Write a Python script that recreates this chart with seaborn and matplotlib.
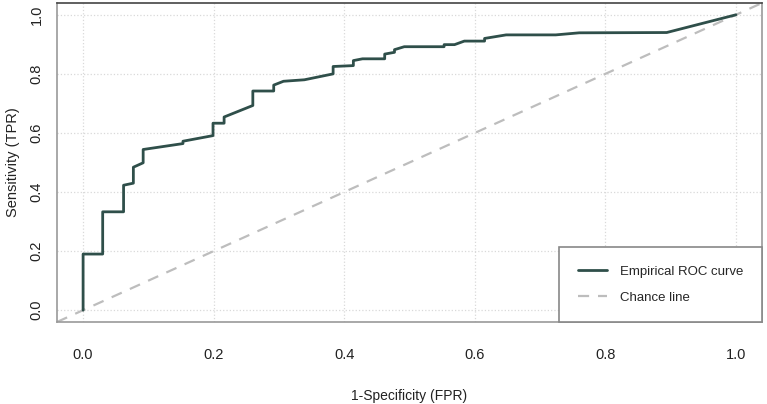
import matplotlib
matplotlib.use('Agg')
import matplotlib.pyplot as plt
import seaborn as sns
import pandas as pd

# =========================
# DATA
# =========================
fpr = [0.000, 0.000, 0.030, 0.030, 0.062, 0.062, 0.077, 0.077, 0.092, 0.092,
       0.153, 0.153, 0.199, 0.199, 0.216, 0.216, 0.260, 0.260, 0.292, 0.292,
       0.307, 0.339, 0.383, 0.383, 0.414, 0.414, 0.428, 0.462, 0.462, 0.477,
       0.477, 0.492, 0.553, 0.553, 0.569, 0.584, 0.615, 0.615, 0.648, 0.724,
       0.760, 0.894, 1.000]
tpr = [0.000, 0.190, 0.190, 0.333, 0.333, 0.423, 0.430, 0.484, 0.499, 0.544,
       0.564, 0.572, 0.591, 0.633, 0.633, 0.654, 0.693, 0.742, 0.742, 0.762,
       0.775, 0.780, 0.800, 0.825, 0.828, 0.845, 0.851, 0.851, 0.867, 0.873,
       0.882, 0.892, 0.892, 0.899, 0.899, 0.911, 0.911, 0.920, 0.932, 0.932,
       0.939, 0.940, 1.000]
chance_x = [0, 1]
chance_y = [0, 1]
ticks = [0.0, 0.2, 0.4, 0.6, 0.8, 1.0]
tick_labels = ['0.0', '0.2', '0.4', '0.6', '0.8', '1.0']

df = pd.DataFrame({'fpr': fpr, 'tpr': tpr})

# =========================
# STYLE
# =========================
sns.set_style('white')
plt.rcParams['font.family'] = ['Liberation Sans', 'DejaVu Sans']

fig = plt.figure(figsize=(7.67, 4.04), dpi=100)
ax = fig.add_axes([0.0743, 0.203, 0.9192, 0.7896])

sns.lineplot(data=df, x='fpr', y='tpr', sort=False, estimator=None,
             color='#2f4f4a', linewidth=2, ax=ax, label='Empirical ROC curve', zorder=3)
ax.axline((chance_x[0], chance_y[0]), (chance_x[1], chance_y[1]), color='#bdbdbd',
          linestyle=(0, (5, 4)), linewidth=1.6, label='Chance line', zorder=2)

ax.set_xlim(-0.04, 1.04)
ax.set_ylim(-0.04, 1.04)
ax.set_xticks(ticks)
ax.set_yticks(ticks)
ax.set_xticklabels(tick_labels, fontsize=10.5)
ax.set_yticklabels(tick_labels, fontsize=10.5, rotation=90, va='center')
ax.tick_params(axis='both', direction='out', width=0.8, color='#888888',
               labelcolor='#222222')
ax.tick_params(axis='x', length=7, pad=12)
ax.tick_params(axis='y', length=5.5, pad=4)

ax.grid(True, color='#d9d9d9', linestyle=':', linewidth=0.9)
for side, sp in ax.spines.items():
    sp.set_visible(True)
    sp.set_color('#999999')
    sp.set_linewidth(1.2)
ax.spines['top'].set_color('#444444')

ax.set_xlabel('1-Specificity (FPR)', fontsize=10, labelpad=19, color='#222222')
ax.set_ylabel('Sensitivity (TPR)', fontsize=10.5, labelpad=7, color='#222222')

leg = ax.legend(loc='lower right', borderaxespad=0, fancybox=False, frameon=True,
                edgecolor='#888888', framealpha=1, handlelength=2.2, handletextpad=1.0,
                borderpad=1.4, labelspacing=1.0, prop={'size': 9.5})
leg.get_frame().set_linewidth(1.2)

plt.savefig('out.png', dpi=100)
